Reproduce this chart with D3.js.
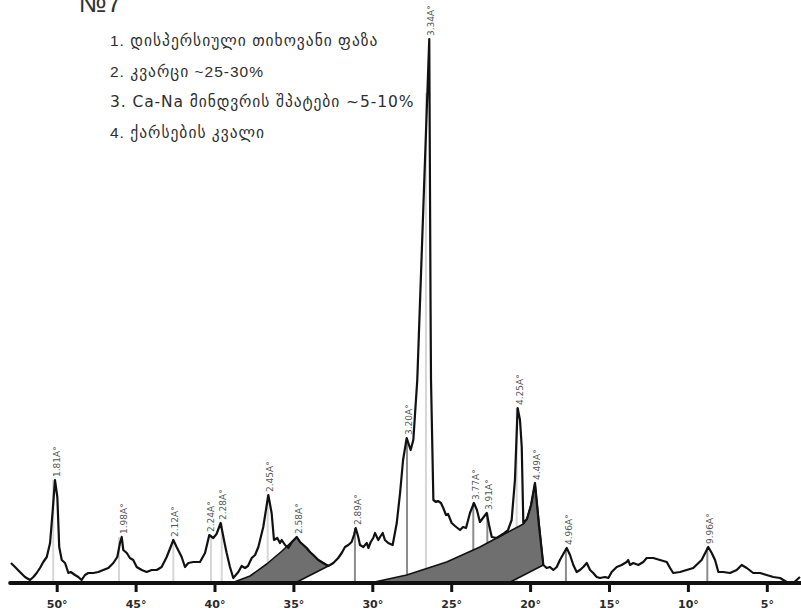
<!DOCTYPE html>
<html>
<head>
<meta charset="utf-8">
<script src="https://cdn.jsdelivr.net/npm/d3@7"></script>
<style>
  body { margin: 0; background: #fff; }
  svg { display: block; }
</style>
</head>
<body>
<svg id="chart" width="801" height="612"></svg>
<script>
// diffractogram trace, 2θ in degrees and intensity in relative counts
const twoTheta = [52.90, 52.64, 52.33, 52.01, 51.69, 51.48, 51.27, 51.06, 50.85, 50.63,
  50.42, 50.25, 50.11, 49.96, 49.84, 49.68, 49.47, 49.26, 49.11, 48.84,
  48.63, 48.42, 48.21, 48.00, 47.68, 47.36, 47.05, 46.73, 46.41, 46.16,
  45.99, 45.88, 45.78, 45.56, 45.36, 45.15, 44.93, 44.61, 44.30, 43.98,
  43.66, 43.35, 43.03, 42.78, 42.61, 42.40, 42.08, 41.87, 41.66, 41.34,
  40.92, 40.60, 40.33, 40.08, 39.87, 39.61, 39.40, 39.23, 39.02, 38.81,
  38.49, 38.28, 38.07, 37.88, 37.64, 37.43, 37.22, 36.91, 36.59, 36.38,
  36.23, 36.02, 35.85, 35.74, 35.53, 35.32, 35.09, 34.79, 34.58, 34.37,
  34.16, 33.95, 33.74, 33.42, 33.11, 32.79, 32.47, 32.16, 31.94, 31.73,
  31.52, 31.31, 31.16, 31.05, 30.89, 30.78, 30.57, 30.35, 30.25, 30.10,
  29.94, 29.83, 29.62, 29.51, 29.34, 29.20, 28.99, 28.71, 28.45, 28.24,
  28.05, 27.82, 27.57, 27.40, 27.15, 26.39, 26.31, 26.28, 26.13, 25.96,
  25.84, 25.65, 25.50, 25.33, 25.20, 24.97, 24.76, 24.44, 24.25, 24.06,
  23.81, 23.56, 23.37, 23.18, 22.99, 22.75, 22.60, 22.43, 22.12, 21.72,
  21.40, 21.17, 20.96, 20.79, 20.64, 20.53, 20.43, 20.20, 19.94, 19.69,
  19.44, 19.16, 18.95, 18.74, 18.53, 18.31, 18.11, 17.68, 17.47, 17.26,
  17.05, 16.84, 16.63, 16.41, 16.20, 16.00, 15.78, 15.57, 15.25, 15.04,
  14.83, 14.51, 14.20, 13.88, 13.78, 13.67, 13.46, 13.14, 12.83, 12.61,
  12.19, 11.77, 11.34, 11.13, 10.93, 10.50, 10.08, 9.66, 9.13, 8.71,
  8.49, 8.28, 8.07, 7.76, 7.33, 6.91, 6.59, 6.27, 5.86, 5.43,
  5.01, 4.59, 4.16, 3.64, 3.32, 2.90];
const counts = [20, 16, 11, 6, 3, 6, 10, 15, 21, 26,
  40, 73, 103, 86, 36, 23, 20, 10, 11, 8,
  6, 3, 8, 10, 10, 11, 13, 15, 20, 26,
  40, 46, 33, 30, 25, 23, 16, 13, 11, 13,
  13, 16, 26, 36, 43, 36, 26, 16, 20, 21,
  21, 30, 48, 45, 49, 60, 43, 30, 16, 5,
  11, 17, 15, 17, 25, 28, 36, 56, 88, 70,
  43, 45, 40, 43, 38, 35, 41, 46, 41, 38,
  35, 31, 28, 23, 20, 17, 20, 25, 30, 36,
  38, 41, 48, 55, 46, 38, 36, 40, 35, 41,
  45, 50, 43, 46, 50, 43, 40, 38, 60, 90,
  123, 145, 133, 143, 203, 544, 283, 203, 83, 81,
  82, 80, 75, 68, 69, 60, 57, 53, 56, 55,
  70, 80, 73, 61, 65, 70, 58, 46, 45, 49,
  53, 63, 103, 175, 163, 136, 60, 64, 78, 100,
  58, 18, 15, 16, 13, 16, 23, 35, 28, 18,
  11, 13, 16, 20, 13, 10, 6, 5, 6, 5,
  11, 16, 18, 21, 23, 18, 20, 18, 21, 25,
  25, 23, 21, 15, 10, 11, 13, 15, 23, 36,
  30, 23, 11, 11, 10, 13, 18, 15, 10, 10,
  8, 6, 5, 0, 0, 6];

// shaded bands under the 2.58 and 4.49 reflections
const bandATheta = [38.91, 37.75, 36.69, 35.72, 34.79, 34.58, 34.37, 34.16, 33.95, 33.74, 33.42, 33.11, 32.79, 34.90];
const bandACounts = [0, 7, 19, 32, 46, 41, 38, 35, 31, 28, 23, 20, 17, 0];
const bandBTheta = [30.15, 27.82, 25.29, 23.18, 22.12, 20.43, 20.20, 19.94, 19.69, 19.16, 21.38];
const bandBCounts = [0, 8, 21, 36, 45, 59, 64, 78, 100, 18, 0];

// labelled reflections
const peakLabels = ['1.81A°', '1.98A°', '2.12A°', '2.24A°', '2.28A°', '2.45A°', '2.58A°', '2.89A°',
  '3.20A°', '3.34A°', '3.77A°', '3.91A°', '4.25A°', '4.49A°', '4.96A°', '9.96A°'];
const peakTheta = [50.11, 45.88, 42.61, 40.33, 39.61, 36.59, 34.79, 31.05,
  27.82, 26.39, 23.56, 22.75, 20.79, 19.69, 17.68, 8.71];
const peakCounts = [103, 46, 43, 48, 60, 88, 46, 55,
  145, 544, 80, 70, 175, 100, 35, 36];
const stickTheta = [50.22, 46.05, 42.61, 40.22, 39.54, 36.63, null, 31.10,
  27.80, 26.60, 23.60, 22.71, 20.85, null, 17.73, 8.77];
const stickTop = [103, 46, 43, 48, 60, 88, 0, 55,
  145, 490, 80, 70, 175, 0, 35, 36];
const stickTone = ['light', 'light', 'light', 'light', 'light', 'light', null, 'dark',
  'dark', 'light', 'dark', 'dark', 'light', null, 'dark', 'dark'];

const tickValues = [50, 45, 40, 35, 30, 25, 20, 15, 10, 5];
const axisExtent = [52.95, 2.8];

const sampleTitle = '№7';
const legendLines = [
  '1. დისპერსიული თიხოვანი ფაზა',
  '2. კვარცი ~25-30%',
  '3. Ca-Na მინდვრის შპატები ~5-10%',
  '4. ქარსების კვალი'
];

(function() {
  const svg = d3.select('#chart');
  const x = d3.scaleLinear().domain([50, 5]).range([56.7, 766.8]);
  const y = d3.scaleLinear().domain([0, 545]).range([583, 38]);

  const peaks = peakLabels.map((label, i) => ({
    label: label,
    theta: peakTheta[i],
    count: peakCounts[i],
    stick: stickTheta[i],
    stickTop: stickTop[i],
    tone: stickTone[i]
  }));

  // stick lines go first so the bands cover their lower part
  svg.append('g').attr('class', 'sticks')
    .selectAll('line')
    .data(peaks.filter(d => d.stick !== null))
    .enter().append('line')
    .attr('x1', d => x(d.stick)).attr('x2', d => x(d.stick))
    .attr('y1', d => y(d.stickTop)).attr('y2', y(0))
    .attr('stroke', d => d.tone === 'light' ? '#d6d6d6' : '#8c8c8c')
    .attr('stroke-width', 2);

  const polyLine = d3.line().x(d => x(d[0])).y(d => y(d[1]));
  const bands = [
    bandATheta.map((t, i) => [t, bandACounts[i]]),
    bandBTheta.map((t, i) => [t, bandBCounts[i]])
  ];
  svg.append('g').attr('class', 'bands')
    .selectAll('path')
    .data(bands)
    .enter().append('path')
    .attr('d', d => polyLine(d) + 'Z')
    .attr('fill', '#6f6f6f')
    .attr('stroke', '#111')
    .attr('stroke-width', 1.6)
    .attr('stroke-linejoin', 'round');

  const trace = twoTheta.map((t, i) => [t, counts[i]]);
  svg.append('path')
    .attr('class', 'trace')
    .attr('d', polyLine(trace))
    .attr('fill', 'none')
    .attr('stroke', '#111')
    .attr('stroke-width', 2.2)
    .attr('stroke-linejoin', 'round');

  // axis
  const axisG = svg.append('g')
    .attr('class', 'axis')
    .attr('transform', `translate(0,${y(0)})`)
    .call(d3.axisBottom(x).tickValues(tickValues).tickSize(9).tickPadding(8)
      .tickFormat(d => `${d}°`));
  axisG.select('.domain').remove();
  axisG.selectAll('.tick line').attr('stroke', '#111').attr('stroke-width', 3);
  axisG.selectAll('.tick text')
    .attr('fill', '#2a2a2a')
    .style('font', 'bold 11px "DejaVu Sans", sans-serif');
  axisG.append('line')
    .attr('x1', x(axisExtent[0])).attr('x2', x(axisExtent[1]))
    .attr('stroke', '#111').attr('stroke-width', 4).attr('stroke-linecap', 'round');

  // peak labels, rotated
  svg.append('g').attr('class', 'peak-labels')
    .selectAll('text')
    .data(peaks)
    .enter().append('text')
    .attr('transform', d => `translate(${x(d.theta) + 5},${y(d.count) - 3}) rotate(-90)`)
    .attr('fill', '#555')
    .style('font', '9px "DejaVu Sans", sans-serif')
    .text(d => d.label);

  // title and legend
  svg.append('text')
    .attr('x', 79).attr('y', 12)
    .attr('fill', '#333')
    .style('font', '26px "Liberation Sans", Arial, sans-serif')
    .text(sampleTitle);

  // the Ca-Na line is set in a wider face in the original
  svg.append('g').attr('class', 'legend')
    .selectAll('text')
    .data(legendLines)
    .enter().append('text')
    .attr('x', 110)
    .attr('y', (d, i) => 46 + i * 30.7)
    .attr('fill', '#2e2e2e')
    .style('font-size', '15.5px')
    .style('font-family', (d, i) => i === 2 ? '"DejaVu Sans", sans-serif' : '"Liberation Sans", "DejaVu Sans", sans-serif')
    .style('letter-spacing', (d, i) => i === 2 ? '0.9px' : '1px')
    .text(d => d);
})();
</script>
</body>
</html>
